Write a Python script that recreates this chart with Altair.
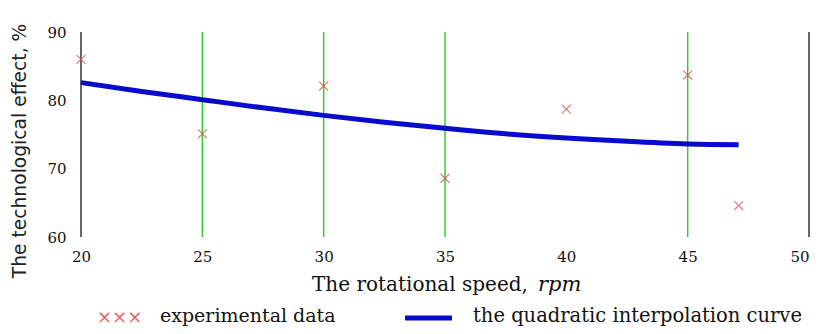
import altair as alt
import pandas as pd

# experimental data
speed = [20, 25, 30, 35, 40, 45, 47.1]
effect = [86.0, 75.1, 82.1, 68.6, 78.7, 83.7, 64.6]

# quadratic interpolation curve
curve_x = [20, 22.5, 25, 27.5, 30, 32.5, 35, 37.5, 40, 42.5, 45, 47.1]
curve_y = [82.6, 81.3, 80.1, 78.9, 77.8, 76.8, 75.9, 75.1, 74.5, 74.0, 73.6, 73.5]

# vertical lines
grid_x = [20, 25, 30, 35, 45, 50]
grid_kind = ["frame", "grid", "grid", "grid", "grid", "frame"]

x_ticks = [20, 25, 30, 35, 40, 45, 50]
y_ticks = [60, 70, 80, 90]

y_title = "The technological effect, %"
x_title = "The rotational speed,"
x_unit = "rpm"
legend_labels = ["experimental data", "the quadratic interpolation curve"]

W, H = 728, 205
SERIF = "DejaVu Serif"

pts = pd.DataFrame({"speed": speed, "effect": effect})
crv = pd.DataFrame({"speed": curve_x, "effect": curve_y})
grd = pd.DataFrame({"speed": grid_x, "kind": grid_kind})

xscale = alt.Scale(domain=[20, 50], nice=False, zero=False)
yscale = alt.Scale(domain=[60, 90], nice=False, zero=False)

xaxis = alt.Axis(values=x_ticks, grid=False, domain=False, ticks=False,
                 labelFont=SERIF, labelFontSize=15, labelPadding=12,
                 labelFlush=False, labelColor="#111", title=None,
                 labelAlign=alt.expr("datum.value == 50 ? 'right' : 'center'"))
yaxis = alt.Axis(values=y_ticks, grid=False, domain=False, ticks=False,
                 labelFont=SERIF, labelFontSize=15, labelPadding=15,
                 labelFlush=False, labelColor="#111", title=None)

rules = alt.Chart(grd).mark_rule(strokeWidth=1.5).encode(
    x=alt.X("speed:Q", scale=xscale, axis=xaxis),
    y=alt.datum(90, scale=yscale, axis=yaxis),
    y2=alt.datum(60),
    color=alt.Color("kind:N", scale=alt.Scale(domain=["frame", "grid"],
                                              range=["#333333", "#33cc33"]),
                    legend=None),
)

line = alt.Chart(crv).mark_line(strokeWidth=5, color="#0a0acc",
                                interpolate="natural").encode(
    x=alt.X("speed:Q", scale=xscale),
    y=alt.Y("effect:Q", scale=yscale),
)

points = alt.Chart(pts).mark_point(
    shape="M-1,-1L1,1M1,-1L-1,1", filled=False, size=80,
    strokeWidth=1.2, color="#d04848").encode(
    x=alt.X("speed:Q", scale=xscale),
    y=alt.Y("effect:Q", scale=yscale),
)

one = pd.DataFrame({"a": [0]})

ytitle = alt.Chart(one).mark_text(
    text=y_title, font="DejaVu Sans", fontSize=18.7, angle=270,
    align="center", baseline="middle", color="#222").encode(
    x=alt.value(-61), y=alt.value(119))

xtitle = alt.Chart(one).mark_text(
    text=x_title, font=SERIF, fontSize=20, align="left",
    baseline="alphabetic", color="#111").encode(
    x=alt.value(231), y=alt.value(259))

xunit = alt.Chart(one).mark_text(
    text=x_unit, font=SERIF, fontSize=21, fontStyle="italic", align="left",
    baseline="alphabetic", color="#111").encode(
    x=alt.value(457), y=alt.value(259))

leg_x = alt.Chart(one).mark_text(
    text="×××", font="DejaVu Sans", fontSize=18, align="left",
    baseline="middle", color="#e06a6a").encode(
    x=alt.value(16), y=alt.value(286))

leg_t1 = alt.Chart(one).mark_text(
    text=legend_labels[0], font=SERIF, fontSize=19, align="left",
    baseline="alphabetic", color="#111").encode(
    x=alt.value(79), y=alt.value(290))

leg_line = alt.Chart(one).mark_rule(strokeWidth=5, color="#0a0acc").encode(
    x=alt.value(324), x2=alt.value(371), y=alt.value(286))

leg_t2 = alt.Chart(one).mark_text(
    text=legend_labels[1], font=SERIF, fontSize=19.5, align="left",
    baseline="alphabetic", color="#111").encode(
    x=alt.value(392), y=alt.value(290))

chart = alt.layer(rules, line, points, ytitle, xtitle, xunit,
                  leg_x, leg_t1, leg_line, leg_t2).properties(
    width=W, height=H,
    autosize=alt.AutoSizeParams(type="none"),
    padding={"left": 73, "top": 24, "right": 6, "bottom": 89},
    background="white",
).configure_view(stroke=None)

chart.save("out.html", embed_options={"renderer": "svg", "actions": False})
